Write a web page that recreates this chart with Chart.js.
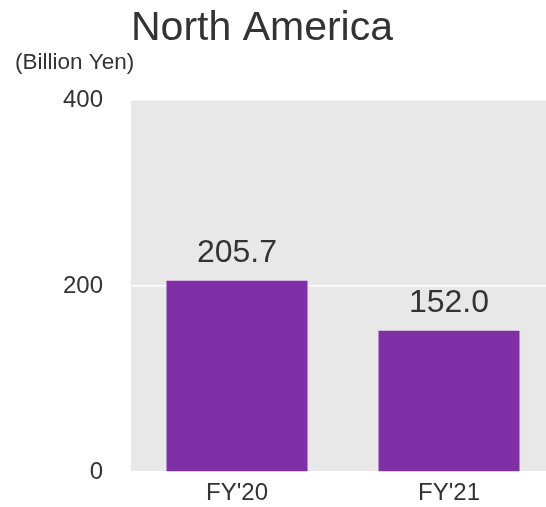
<!DOCTYPE html>
<html>
<head>
<meta charset="utf-8">
<script src="https://cdn.jsdelivr.net/npm/chart.js@4"></script>
<style>
  html, body { margin: 0; padding: 0; background: #fff; }
  #wrap { width: 546px; height: 507px; }
</style>
</head>
<body>
<div id="wrap"><canvas id="naChart"></canvas></div>
<script>
const categories = ["FY'20", "FY'21"];
const sales = [205.7, 152.0];
const yTicks = [0, 200, 400];
const titleText = "North America";
const unitText = "(Billion Yen)";

const textColor = "#333333";
const fontFamily = "'Liberation Sans', Arial, sans-serif";

// plot background, title, unit label and the value labels
const decorations = {
  id: "decorations",
  afterLayout(chart) {
    // pin the plot box to where it sits in the original picture
    const x = chart.scales.x;
    const y = chart.scales.y;
    const area = chart.chartArea;
    y.bottom = 472;
    y.height = y.bottom - y.top;
    y.configure();
    area.bottom = 472;
    area.height = area.bottom - area.top;
    x.top = 472;
    x.bottom = chart.height;
    x.height = x.bottom - x.top;
    x.right = 555; // plot runs a little past the right edge
    x.width = x.right - x.left;
    x.configure();
  },
  beforeDraw(chart) {
    const { ctx, chartArea } = chart;
    ctx.save();
    ctx.fillStyle = "#e8e8e8";
    ctx.fillRect(chartArea.left, chartArea.top, chart.width - chartArea.left, chartArea.bottom - chartArea.top);
    ctx.restore();
  },
  afterDatasetsDraw(chart) {
    const { ctx } = chart;
    ctx.save();
    ctx.fillStyle = textColor;
    ctx.textAlign = "center";
    ctx.textBaseline = "alphabetic";
    ctx.font = "32px " + fontFamily;
    chart.getDatasetMeta(0).data.forEach((bar, i) => {
      ctx.fillText(sales[i].toFixed(1), bar.x, bar.y - 19);
    });
    ctx.font = "41px " + fontFamily;
    ctx.fillText(titleText, 262, 40);
    ctx.textAlign = "left";
    ctx.font = "22.5px " + fontFamily;
    ctx.fillText(unitText, 15, 69);
    ctx.restore();
  }
};

const ctx = document.getElementById("naChart").getContext("2d");
new Chart(ctx, {
  type: "bar",
  data: {
    labels: categories,
    datasets: [{
      label: "Sales",
      data: sales,
      backgroundColor: "#7f30a6",
      borderWidth: 0,
      barPercentage: 0.665,
      categoryPercentage: 1
    }]
  },
  options: {
    responsive: true,
    maintainAspectRatio: false,
    animation: false,
    layout: { padding: { top: 100, left: 0, right: 0, bottom: 0 } },
    scales: {
      x: {
        grid: { display: false, drawTicks: false, tickLength: 0 },
        border: { display: false },
        ticks: { color: textColor, font: { size: 24, family: fontFamily }, padding: 7 }
      },
      y: {
        min: yTicks[0],
        max: yTicks[yTicks.length - 1],
        afterBuildTicks(scale) { scale.ticks = yTicks.map(v => ({ value: v })); },
        grid: { color: "#ffffff", lineWidth: 1.5, drawTicks: false, tickLength: 0 },
        border: { display: false },
        ticks: { color: textColor, font: { size: 24, family: fontFamily }, padding: 28 },
        afterFit(scale) { scale.width = 131; }
      }
    },
    plugins: {
      legend: { display: false },
      tooltip: { enabled: false },
      title: { display: false }
    }
  },
  plugins: [decorations]
});
</script>
</body>
</html>
